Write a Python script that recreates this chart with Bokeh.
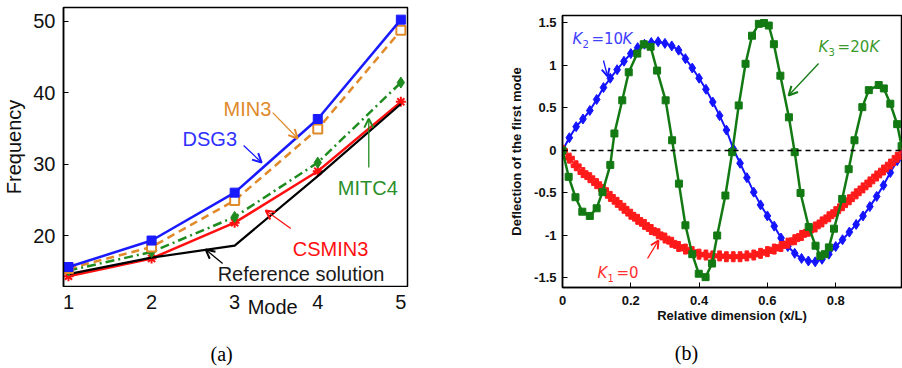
from bokeh.plotting import figure
from bokeh.models import (Range1d, FixedTicker, Label, Arrow, OpenHead,
                          Span, PrintfTickFormatter)
from bokeh.layouts import row, column
from bokeh.embed import file_html
from bokeh.resources import INLINE

# ---------------- panel (a) data ----------------
modes = [1, 2, 3, 4, 5]
dsg3 = [15.6, 19.3, 26.0, 36.3, 50.2]
min3 = [15.4, 18.4, 24.9, 34.9, 48.7]
mitc4 = [15.1, 17.7, 22.6, 30.2, 41.4]
csmin3 = [14.3, 16.8, 21.8, 29.0, 38.7]
reference = [14.6, 16.9, 18.6, 28.3, 38.4]
a_xticks = [1, 2, 3, 4, 5]
a_xlabels = ["1", "2", "3", "4", "5"]
a_yticks = [20, 30, 40, 50]

# ---------------- panel (b) data ----------------
xl = [0.00, 0.02, 0.04, 0.06, 0.08, 0.10, 0.12, 0.14, 0.16, 0.18,
      0.20, 0.22, 0.24, 0.26, 0.28, 0.30, 0.32, 0.34, 0.36, 0.38,
      0.40, 0.42, 0.44, 0.46, 0.48, 0.50, 0.52, 0.54, 0.56, 0.58,
      0.60, 0.62, 0.64, 0.66, 0.68, 0.70, 0.72, 0.74, 0.76, 0.78,
      0.80, 0.82, 0.84, 0.86, 0.88, 0.90, 0.92, 0.94, 0.96, 0.98, 1.00]
k2_defl = [0.00, 0.15, 0.28, 0.37, 0.47, 0.60, 0.74, 0.85, 0.95, 1.05,
           1.14, 1.21, 1.25, 1.27, 1.28, 1.26, 1.23, 1.18, 1.08, 0.97,
           0.85, 0.72, 0.57, 0.41, 0.24, 0.02, -0.15, -0.32, -0.49, -0.64,
           -0.77, -0.89, -1.03, -1.13, -1.21, -1.27, -1.30, -1.31, -1.28, -1.22,
           -1.13, -1.05, -0.96, -0.87, -0.77, -0.66, -0.54, -0.41, -0.26, -0.12, 0.00]
k1_defl = [0.00, -0.09, -0.18, -0.26, -0.32, -0.39, -0.46, -0.54, -0.61, -0.68,
           -0.75, -0.81, -0.87, -0.93, -0.98, -1.03, -1.08, -1.13, -1.16, -1.19,
           -1.22, -1.23, -1.24, -1.24, -1.25, -1.25, -1.25, -1.24, -1.23, -1.21,
           -1.19, -1.16, -1.13, -1.09, -1.05, -1.00, -0.95, -0.90, -0.84, -0.78,
           -0.72, -0.65, -0.58, -0.51, -0.44, -0.37, -0.30, -0.23, -0.16, -0.08, 0.00]
xg = [0.000, 0.018, 0.038, 0.058, 0.080, 0.100, 0.117, 0.140, 0.152, 0.175,
      0.194, 0.219, 0.238, 0.258, 0.277, 0.302, 0.321, 0.341, 0.360, 0.380,
      0.399, 0.419, 0.438, 0.453, 0.477, 0.497, 0.516, 0.536, 0.555, 0.575,
      0.590, 0.604, 0.619, 0.638, 0.663, 0.680, 0.697, 0.721, 0.741, 0.755,
      0.768, 0.780, 0.795, 0.819, 0.838, 0.855, 0.878, 0.897, 0.926, 0.941,
      0.960, 0.980, 0.993]
k3_defl = [0.00, -0.31, -0.55, -0.72, -0.77, -0.68, -0.49, -0.17, 0.20, 0.59,
           0.92, 1.14, 1.25, 1.22, 0.94, 0.59, 0.12, -0.39, -0.88, -1.22,
           -1.45, -1.49, -1.33, -1.00, -0.53, -0.02, 0.53, 1.02, 1.35, 1.49,
           1.50, 1.47, 1.25, 0.88, 0.39, -0.02, -0.50, -0.90, -1.12, -1.24,
           -1.22, -1.14, -0.92, -0.57, -0.22, 0.12, 0.51, 0.71, 0.77, 0.73,
           0.55, 0.31, 0.05]
b_xticks = [0, 0.2, 0.4, 0.6, 0.8]
b_yticks = [-1.5, -1, -0.5, 0, 0.5, 1, 1.5]

SANS = "Liberation Sans"
SERIF = "Liberation Serif"
DV = "DejaVu Sans"


def style_axis(ax, ticks):
    ax.ticker = FixedTicker(ticks=ticks)
    ax.major_tick_in = 5
    ax.major_tick_out = 0
    ax.minor_tick_line_color = None
    ax.axis_line_width = 1.5
    ax.axis_line_color = "black"
    ax.major_tick_line_width = 1


def lab(p, x, y, text, color, size, font=SANS, style="normal", align="left", xo=0, yo=0,
        baseline="alphabetic"):
    p.add_layout(Label(x=x, y=y, text=text, text_color=color, text_font=font,
                       text_font_size=size, text_font_style=style, text_align=align,
                       text_baseline=baseline, x_offset=xo, y_offset=yo))


def arr(p, x0, y0, x1, y1, color, size=9):
    p.add_layout(Arrow(x_start=x0, y_start=y0, x_end=x1, y_end=y1, line_color=color,
                       line_width=1.3,
                       end=OpenHead(size=size, line_color=color, line_width=2)))


def strip(width, height, xr, left, right):
    s = figure(width=width, height=height, x_range=xr, y_range=Range1d(0, height),
               title=None, output_backend="svg", toolbar_location=None,
               x_axis_location=None, y_axis_location=None,
               min_border_left=left, min_border_right=right, min_border_top=0,
               min_border_bottom=0, outline_line_color=None,
               background_fill_color="white", border_fill_color="white")
    s.grid.visible = False
    return s


# ======================= panel (a) =======================
pa = figure(width=450, height=287, x_range=Range1d(0.94, 5.08), y_range=Range1d(12.87, 51.9),
            title=None, output_backend="svg", toolbar_location=None, x_axis_location=None,
            min_border_left=63, min_border_right=43, min_border_top=7, min_border_bottom=1,
            background_fill_color="white", border_fill_color="white",
            outline_line_color="black", outline_line_width=1.5)
pa.grid.visible = False
ya = pa.yaxis[0]
style_axis(ya, a_yticks)
ya.major_label_text_font = SANS
ya.major_label_text_font_size = "20px"
ya.major_label_text_color = "#111111"
ya.major_label_standoff = 8
ya.axis_label = "Frequency"
ya.axis_label_text_font = SANS
ya.axis_label_text_font_size = "20px"
ya.axis_label_text_font_style = "normal"
ya.axis_label_text_color = "#111111"
ya.axis_label_standoff = 5

RED = "#ff1010"
GREEN_A = "#1f8c1f"
ORANGE = "#e08a2a"
BLUE_A = "#1a1aff"

pa.line(modes, csmin3, color=RED, line_width=2.5)
pa.scatter(modes, csmin3, marker="asterisk", size=10, line_color=RED, line_width=2)
pa.line(modes, reference, color="black", line_width=2.2)
pa.line(modes, mitc4, color=GREEN_A, line_width=2.5, line_dash="9 4 2 4")
pa.scatter(modes, mitc4, marker="diamond", size=11, fill_color=GREEN_A, line_color=GREEN_A)
pa.line(modes, min3, color=ORANGE, line_width=2.5, line_dash="8 5")
pa.scatter(modes, min3, marker="square", size=9, fill_color="white", line_color=ORANGE, line_width=2)
pa.line(modes, dsg3, color=BLUE_A, line_width=2.5)
pa.scatter(modes, dsg3, marker="square", size=9, fill_color=BLUE_A, line_color=BLUE_A)

lab(pa, 2.867, 37.76, "MIN3", ORANGE, "20px")
lab(pa, 2.373, 33.57, "DSG3", "#3030ff", "20px")
lab(pa, 4.241, 26.71, "MITC4", "#2a8f2a", "20px")
lab(pa, 3.699, 18.18, "CSMIN3", RED, "20px")
lab(pa, 2.795, 13.10, "Reference solution", "#1a1a1a", "20px", baseline="bottom")

arr(pa, 3.458, 37.2, 3.759, 33.57, ORANGE)
arr(pa, 3.108, 32.59, 3.325, 30.21, BLUE_A)
arr(pa, 4.614, 29.51, 4.614, 36.36, GREEN_A)
arr(pa, 3.675, 20.98, 3.373, 23.5, RED)
arr(pa, 2.855, 16.08, 2.651, 18.04, "black")

# strip under panel (a): tick labels, axis title and caption (shares x scale)
sa = strip(450, 81, pa.x_range, 63, 43)
sa.text(x=a_xticks, y=[67] * len(a_xticks), text=a_xlabels, text_align="center",
        text_baseline="alphabetic", text_font_size="20px", text_color="#111111",
        text_font={"value": SANS})
lab(sa, 3.157, 62, "Mode", "#111111", "20px")
lab(sa, 2.843, 15, "(a)", "black", "20px", font=SERIF, align="center")

# ======================= panel (b) =======================
pb = figure(width=452, height=330, x_range=Range1d(0, 0.9927), y_range=Range1d(-1.612, 1.588),
            title=None, output_backend="svg", toolbar_location=None,
            min_border_left=112, min_border_right=1, min_border_top=15, min_border_bottom=43,
            background_fill_color="white", border_fill_color="white",
            outline_line_color="black", outline_line_width=1.5)
pb.grid.visible = False
xb = pb.xaxis[0]
yb = pb.yaxis[0]
style_axis(xb, b_xticks)
style_axis(yb, b_yticks)
for ax in (xb, yb):
    ax.major_label_text_font = SANS
    ax.major_label_text_font_size = "13px"
    ax.major_label_text_font_style = "bold"
    ax.major_label_text_color = "#111111"
    ax.formatter = PrintfTickFormatter(format="%g")
    ax.axis_label_text_font = SANS
    ax.axis_label_text_font_size = "13px"
    ax.axis_label_text_font_style = "bold"
    ax.axis_label_text_color = "#111111"
xb.major_label_standoff = 8
xb.axis_label = "Relative dimension (x/L)"
xb.axis_label_standoff = 0
yb.major_label_standoff = 6
yb.axis_label = "Deflection of the first mode"
yb.axis_label_standoff = 7

pb.add_layout(Span(location=0, dimension="width", line_color="black",
                   line_dash="5 4", line_width=1.5))

BLUE_B = "#1414ff"
RED_B = "#ff1a1a"
GREEN_B = "#137a13"

pb.line(xl, k2_defl, color=BLUE_B, line_width=2)
pb.scatter(xl, k2_defl, marker="diamond", size=10, fill_color=BLUE_B, line_color=BLUE_B)
pb.line(xl, k1_defl, color=RED_B, line_width=2)
pb.scatter(xl, k1_defl, marker="plus", size=10, fill_color=RED_B, line_color=RED_B)
pb.line(xg, k3_defl, color=GREEN_B, line_width=2.5)
pb.scatter(xg, k3_defl, marker="square", size=7, fill_color=GREEN_B, line_color=GREEN_B)

# K2 = 10K label
lab(pb, 0.0293, 1.314, "K", "#4040ff", "15px", font=DV, style="italic")
lab(pb, 0.0293, 1.314, "2", "#4040ff", "10px", font=DV, xo=10, yo=-5)
lab(pb, 0.0293, 1.314, "=10", "#4040ff", "15px", font=DV, xo=19)
lab(pb, 0.0293, 1.314, "K", "#4040ff", "15px", font=DV, style="italic", xo=50)
# K3 = 20K label
lab(pb, 0.750, 1.215, "K", "#3a9a2a", "15px", font=DV, style="italic")
lab(pb, 0.750, 1.215, "3", "#3a9a2a", "10px", font=DV, xo=10, yo=-5)
lab(pb, 0.750, 1.215, "=20", "#3a9a2a", "15px", font=DV, xo=19)
lab(pb, 0.750, 1.215, "K", "#3a9a2a", "15px", font=DV, style="italic", xo=51)
# K1 = 0 label
lab(pb, 0.1025, -1.447, "K", "#ff3030", "15px", font=DV, style="italic")
lab(pb, 0.1025, -1.447, "1", "#ff3030", "10px", font=DV, xo=10, yo=-5)
lab(pb, 0.1025, -1.447, "=0", "#ff3030", "15px", font=DV, xo=19)

arr(pb, 0.120, 1.059, 0.132, 0.871, BLUE_B, size=8)
arr(pb, 0.750, 1.024, 0.662, 0.647, GREEN_B, size=9)
arr(pb, 0.249, -1.271, 0.281, -1.059, RED_B, size=8)

# caption strip under panel (b)
sb = strip(452, 38, pb.x_range, 112, 1)
lab(sb, 0.363, 16, "(b)", "black", "20px", font=SERIF, align="center")

layout = row(column(pa, sa), column(pb, sb))
open("out.html", "w").write(file_html(layout, INLINE))
